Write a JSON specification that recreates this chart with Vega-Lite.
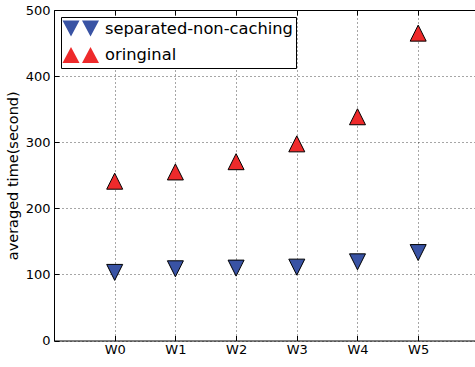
{
  "$schema": "https://vega.github.io/schema/vega-lite/v6.json",
  "autosize": "none",
  "padding": {"left": 54, "top": 10, "right": 0, "bottom": 26},
  "width": 421,
  "height": 330.5,
  "config": {
    "font": "DejaVu Sans",
    "view": {"stroke": null},
    "axis": {
      "domainColor": "black",
      "domainWidth": 1,
      "tickColor": "black",
      "tickWidth": 1,
      "tickSize": -5,
      "labelColor": "black",
      "labelFontSize": 13,
      "labelFont": "DejaVu Sans",
      "titleFont": "DejaVu Sans",
      "titleFontWeight": "normal",
      "titleColor": "black",
      "titleFontSize": 14.5,
      "gridColor": "black",
      "gridOpacity": 0.7,
      "gridDash": [1, 3],
      "gridWidth": 1
    },
    "legend": {
      "title": null,
      "orient": "none",
      "legendX": 7,
      "legendY": 7,
      "strokeColor": "black",
      "fillColor": "white",
      "padding": 3,
      "rowPadding": 5.5,
      "labelFontSize": 16.3,
      "labelFont": "DejaVu Sans",
      "labelColor": "black",
      "labelLimit": 0,
      "labelOffset": 24,
      "symbolSize": 256,
      "symbolOpacity": 1,
      "symbolStrokeWidth": 1,
      "symbolStrokeColor": "black"
    }
  },
  "data": {
    "values": [
      {"idx": 0, "series": "separated-non-caching", "time": 103},
      {"idx": 1, "series": "separated-non-caching", "time": 108.5},
      {"idx": 2, "series": "separated-non-caching", "time": 109.5},
      {"idx": 3, "series": "separated-non-caching", "time": 111},
      {"idx": 4, "series": "separated-non-caching", "time": 119},
      {"idx": 5, "series": "separated-non-caching", "time": 133},
      {"idx": 0, "series": "oringinal", "time": 241},
      {"idx": 1, "series": "oringinal", "time": 255},
      {"idx": 2, "series": "oringinal", "time": 270.5},
      {"idx": 3, "series": "oringinal", "time": 297.5},
      {"idx": 4, "series": "oringinal", "time": 338.5},
      {"idx": 5, "series": "oringinal", "time": 465}
    ]
  },
  "resolve": {"axis": {"x": "independent"}, "scale": {"shape": "independent", "color": "independent"}},
  "layer": [
    {
      "mark": {"type": "point", "filled": true, "stroke": "black", "strokeWidth": 1, "size": 256, "opacity": 1},
      "encoding": {
        "x": {
          "field": "idx",
          "type": "quantitative",
          "scale": {"domain": [-1, 5.936], "nice": false, "zero": false},
          "axis": {
            "orient": "bottom",
            "values": [0, 1, 2, 3, 4, 5],
            "labelExpr": "'W' + datum.value",
            "title": null,
            "grid": true,
            "labelPadding": 8
          }
        },
        "y": {
          "field": "time",
          "type": "quantitative",
          "scale": {"domain": [0, 500], "nice": false},
          "axis": {
            "values": [0, 100, 200, 300, 400, 500],
            "title": "averaged time(second)",
            "grid": true,
            "labelPadding": 9,
            "titlePadding": 5
          }
        },
        "color": {
          "field": "series",
          "type": "nominal",
          "scale": {"domain": ["separated-non-caching", "oringinal"], "range": ["#3953a4", "#ee2a2b"]},
          "legend": null
        },
        "shape": {
          "field": "series",
          "type": "nominal",
          "scale": {"domain": ["separated-non-caching", "oringinal"], "range": ["M-1,-1L1,-1L0,1Z", "M-1,1L1,1L0,-1Z"]},
          "legend": null
        }
      }
    },
    {
      "mark": {"type": "point", "filled": true, "stroke": "black", "strokeWidth": 1, "opacity": 0, "size": 256},
      "encoding": {
        "x": {
          "field": "idx",
          "type": "quantitative",
          "axis": {
            "orient": "top",
            "values": [0, 1, 2, 3, 4, 5],
            "labels": false,
            "title": null,
            "grid": false,
            "domain": true
          }
        },
        "y": {"field": "time", "type": "quantitative"},
        "color": {
          "field": "series",
          "type": "nominal",
          "scale": {"domain": ["separated-non-caching", "oringinal"], "range": ["#3953a4", "#ee2a2b"]},
          "legend": {}
        },
        "shape": {
          "field": "series",
          "type": "nominal",
          "scale": {"domain": ["separated-non-caching", "oringinal"], "range": ["M-1.25,-1L0.875,-1L-0.1875,1Z M1.1875,-1L3.3125,-1L2.25,1Z", "M-1.25,1L0.875,1L-0.1875,-1Z M1.1875,1L3.3125,1L2.25,-1Z"]},
          "legend": {}
        }
      }
    }
  ]
}
